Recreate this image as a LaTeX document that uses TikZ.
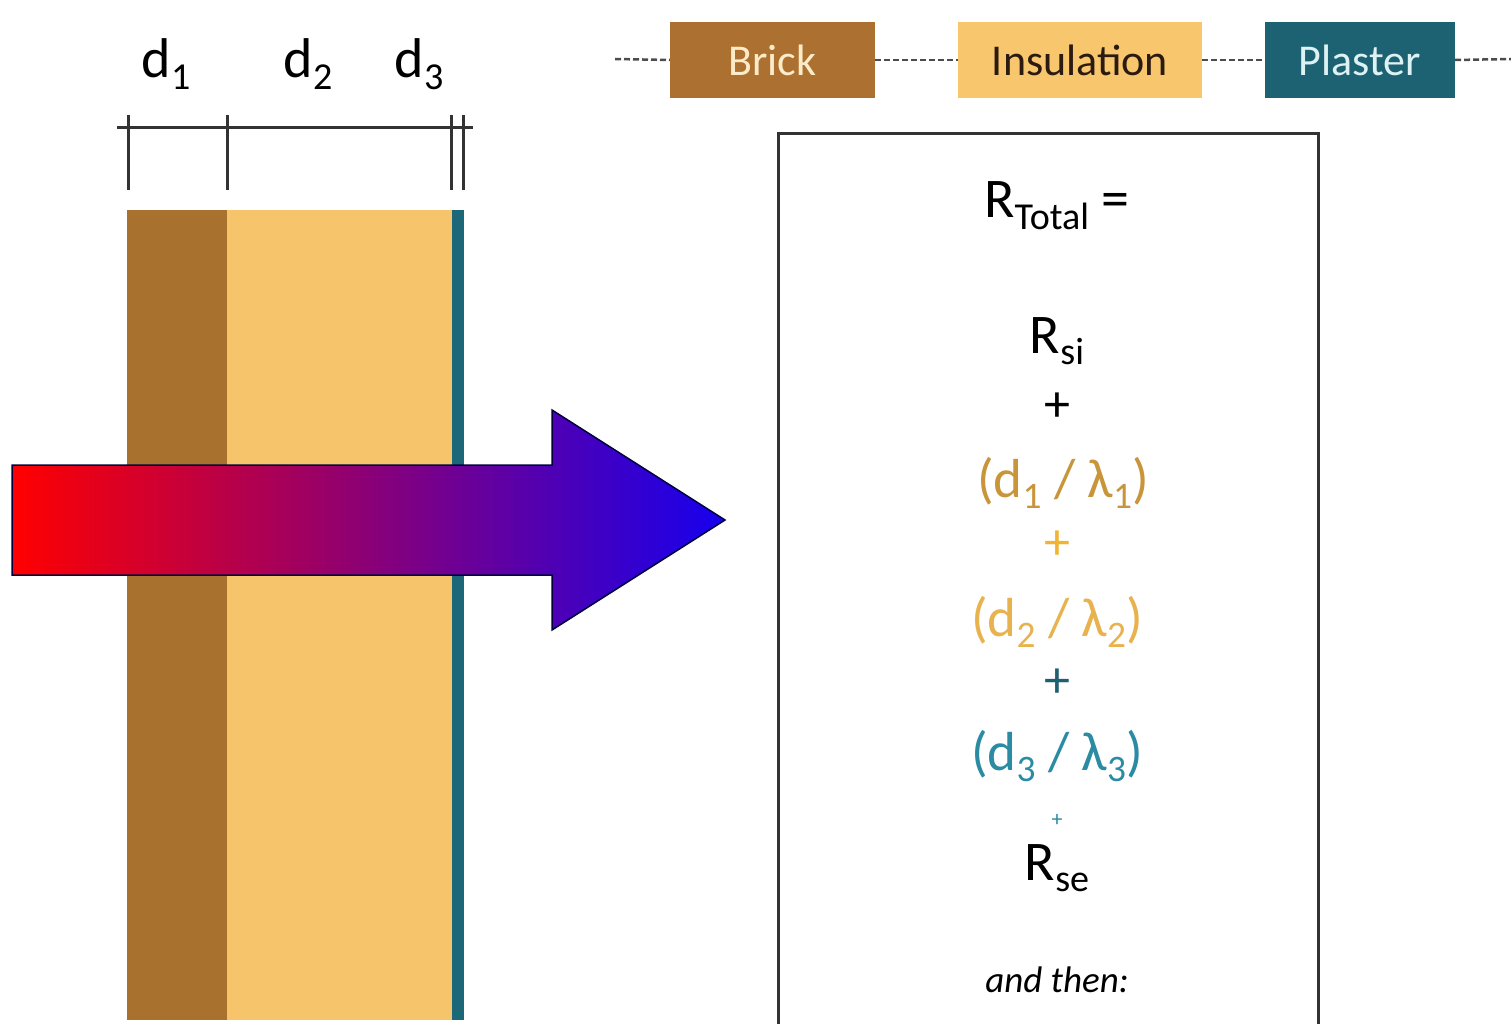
\documentclass[tikz,border=0pt]{standalone}
\usepackage{fontspec}
\setmainfont{Carlito}
\definecolor{brickc}{HTML}{A8712E}
\definecolor{insc}{HTML}{F6C56B}
\definecolor{plasc}{HTML}{1D6878}
\definecolor{lbrick}{HTML}{AC7130}
\definecolor{lins}{HTML}{F8C66C}
\definecolor{lplas}{HTML}{1C6272}
\definecolor{cbrick}{HTML}{FCEBC9}
\definecolor{cins}{HTML}{2A1A10}
\definecolor{cplas}{HTML}{DDF2F2}
\definecolor{done}{HTML}{C8953B}
\definecolor{dtwo}{HTML}{E8B24E}
\definecolor{plusgold}{HTML}{F0B432}
\definecolor{dthree}{HTML}{2A8BA3}
\definecolor{plusteal}{HTML}{1F5F70}
\definecolor{arrred}{RGB}{255,0,0}
\definecolor{arrblue}{RGB}{22,0,238}
\newcommand\fsz[1]{\fontsize{#1}{#1}\selectfont}
\newcommand\sbs[1]{\raisebox{-0.2em}{\scalebox{0.68}{#1}}}
\begin{document}
\begin{tikzpicture}[x=1pt,y=-1pt,
  legendbox/.style={minimum width=#1, minimum height=76pt, inner sep=0pt, font=\fsz{44}},
  legendline/.style={draw=black!70, line width=2.5pt, dash pattern=on 6pt off 3pt},
  tickline/.style={draw=black!80, line width=3pt},
  formula/.style={anchor=base, inner sep=0pt},
  labeltop/.style={anchor=base, inner sep=0pt, font=\fsz{56}}]
\useasboundingbox (0,0) rectangle (1511,1024);
% wall layers
\fill[brickc] (127,210) rectangle (227,1020);
\fill[insc] (227,210) rectangle (452,1020);
\fill[plasc] (452,210) rectangle (464,1020);
% dimension line
\coordinate (hl) at (117,128);
\coordinate (hr) at (473,128);
\draw[tickline] (hl) -- (hr);
\coordinate (t1a) at (128,115); \coordinate (t1b) at (128,190);
\coordinate (t2a) at (227,115); \coordinate (t2b) at (227,190);
\coordinate (t3a) at (451,115); \coordinate (t3b) at (451,190);
\coordinate (t4a) at (463,115); \coordinate (t4b) at (463,190);
\draw[tickline] (t1a) -- (t1b);
\draw[tickline] (t2a) -- (t2b);
\draw[tickline] (t3a) -- (t3b);
\draw[tickline] (t4a) -- (t4b);
\node[labeltop] (d1) at (166,78) {d\sbs{1}};
\node[labeltop] (d2) at (308,78) {d\sbs{2}};
\node[labeltop] (d3) at (419,78) {d\sbs{3}};
% heat arrow
\path[draw=black!75!blue, line width=1.5pt, left color=arrred, right color=arrblue]
  (12,465) -- (552,465) -- (552,410) -- (725,520) -- (552,630) -- (552,575) -- (12,575) -- cycle;
% legend
\coordinate (lstart) at (615,59);
\coordinate (lend) at (1511,59);
\node[legendbox=205pt, fill=lbrick, text=cbrick] (brick) at (772.5,60) {Brick};
\node[legendbox=244pt, fill=lins, text=cins] (ins) at (1080,60) {Insulation};
\node[legendbox=190pt, fill=lplas, text=cplas] (plas) at (1360,60) {Plaster};
\draw[legendline] (lstart) -- (brick.west);
\draw[legendline] (brick.east) -- (ins.west);
\draw[legendline] (ins.east) -- (plas.west);
\draw[legendline] (plas.east) -- (lend);
% formula box
\coordinate (bl) at (778,1030);
\coordinate (tl) at (778,134);
\coordinate (tr) at (1318,134);
\coordinate (br) at (1318,1030);
\draw[draw=black!80, line width=3pt] (bl) -- (tl) -- (tr) -- (br);
\node[formula, font=\fsz{56}] (rtot) at (1057,218) {R\sbs{Total} =};
\node[formula, font=\fsz{56}] (rsi) at (1057,353) {R\sbs{si}};
\node[anchor=center, inner sep=0pt, font=\fsz{52}] (p1) at (1057,407) {+};
\node[formula, font=\fsz{55}, text=done] (f1) at (1063,497) {(d\sbs{1} / λ\sbs{1})};
\node[anchor=center, inner sep=0pt, font=\fsz{52}, text=plusgold] (p2) at (1057,545) {+};
\node[formula, font=\fsz{55}, text=dtwo] (f2) at (1057,636) {(d\sbs{2} / λ\sbs{2})};
\node[anchor=center, inner sep=0pt, font=\fsz{52}, text=plusteal] (p3) at (1057,683) {+};
\node[formula, font=\fsz{55}, text=dthree] (f3) at (1057,770) {(d\sbs{3} / λ\sbs{3})};
\node[anchor=center, inner sep=0pt, font=\fsz{22}, text=dthree] (p4) at (1057,820) {+};
\node[formula, font=\fsz{56}] (rse) at (1057,880) {R\sbs{se}};
\node[formula, font=\fsz{37}\itshape] (andthen) at (1057,992) {and then:};
\end{tikzpicture}
\end{document}
